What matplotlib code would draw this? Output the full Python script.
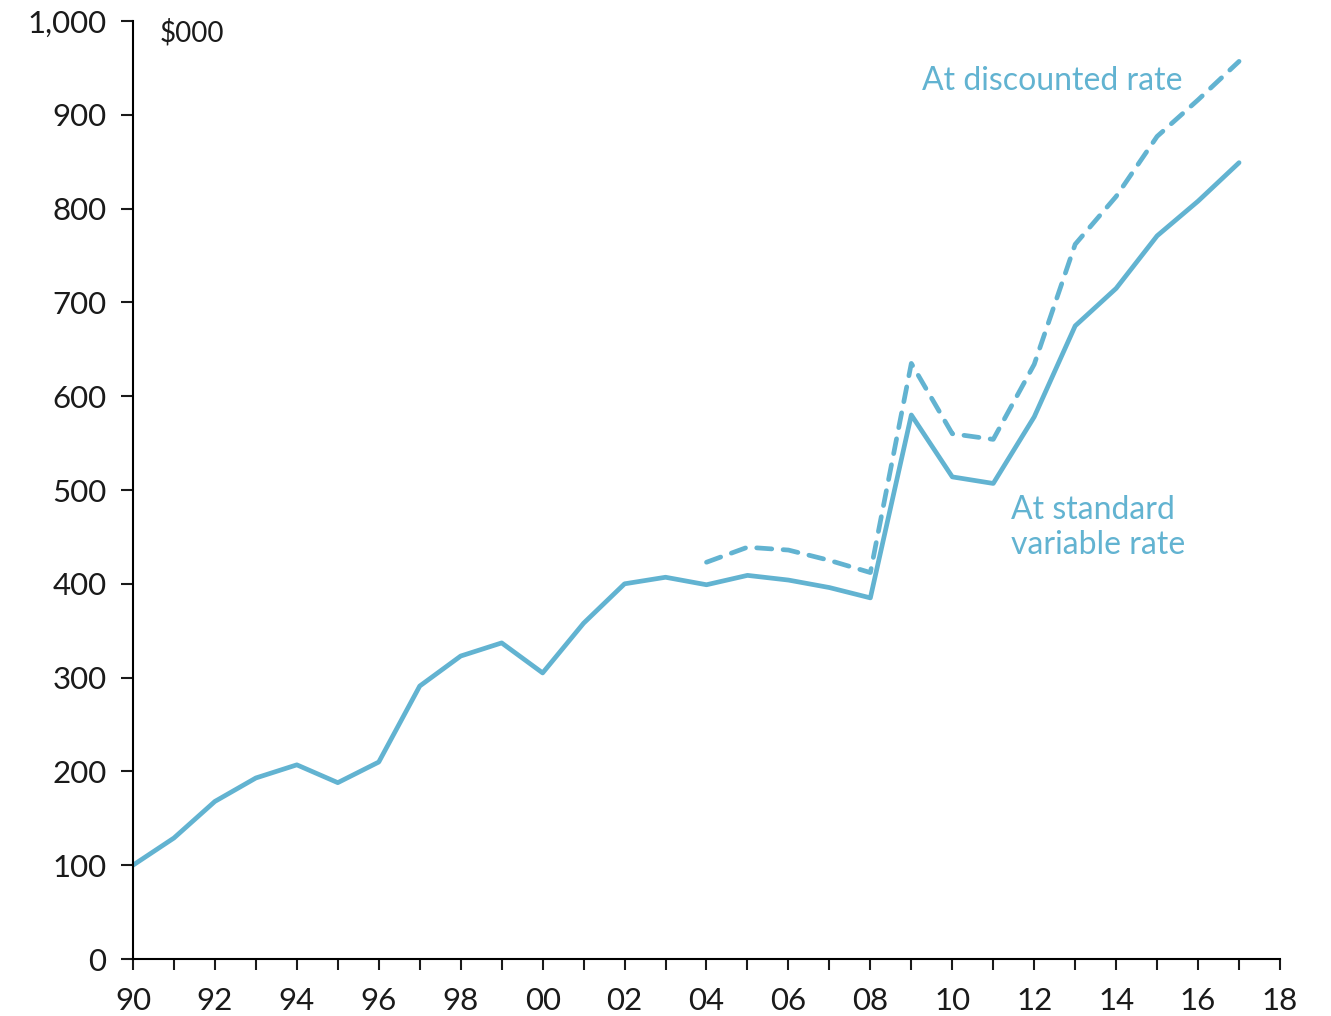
import matplotlib
matplotlib.use("Agg")
import matplotlib.pyplot as plt

years = list(range(1990, 2018))
standard = [100, 129, 168, 193, 207, 188, 210, 291, 323, 337,
            305, 358, 400, 407, 399, 409, 404, 396, 385, 580,
            514, 507, 578, 675, 715, 771, 808, 849]
disc_years = list(range(2004, 2018))
discounted = [423, 439, 436, 425, 412, 635, 560, 554, 634, 762,
              813, 877, 916, 957]

xticks = list(range(1990, 2019, 2))
xticklabels = [f"{y % 100:02d}" for y in xticks]
yticks = list(range(0, 1001, 100))
yticklabels = [f"{v:,}" for v in yticks]

color = "#62b3d1"
plt.rcParams["font.family"] = ["Lato", "DejaVu Sans"]

fig = plt.figure(figsize=(13.31, 10.16), dpi=100)
ax = fig.add_axes([0.0999, 0.0561, 0.8618, 0.9232])

ax.plot(years, standard, color=color, lw=3.4, solid_joinstyle="round",
        solid_capstyle="round")
ax.plot(disc_years, discounted, color=color, lw=3.4,
        dashes=(3.2, 2.4), dash_capstyle="round")

ax.set_xlim(1990, 2018)
ax.set_ylim(0, 1000)
ax.set_xticks(range(1990, 2019))
ax.set_xticklabels([xticklabels[xticks.index(y)] if y in xticks else "" for y in range(1990, 2019)])
ax.set_yticks(yticks)
ax.set_yticklabels(yticklabels)
for s in ["top", "right"]:
    ax.spines[s].set_visible(False)
for s in ["left", "bottom"]:
    ax.spines[s].set_linewidth(1.5)
ax.tick_params(axis="both", direction="out", width=1.5, labelsize=22.5, colors="#1a1a1a")
ax.tick_params(axis="y", length=9, pad=10)
ax.tick_params(axis="x", length=8, pad=12)

ax.text(1990.65, 988, "$000", fontsize=20, va="center", ha="left", color="#1a1a1a")
ax.text(2009.27, 936, "At discounted rate", fontsize=23, color=color, va="center")
ax.text(2011.44, 460, "At standard\nvariable rate", fontsize=23, color=color,
        va="center", linespacing=1.2)

fig.savefig("out.png", dpi=100)
